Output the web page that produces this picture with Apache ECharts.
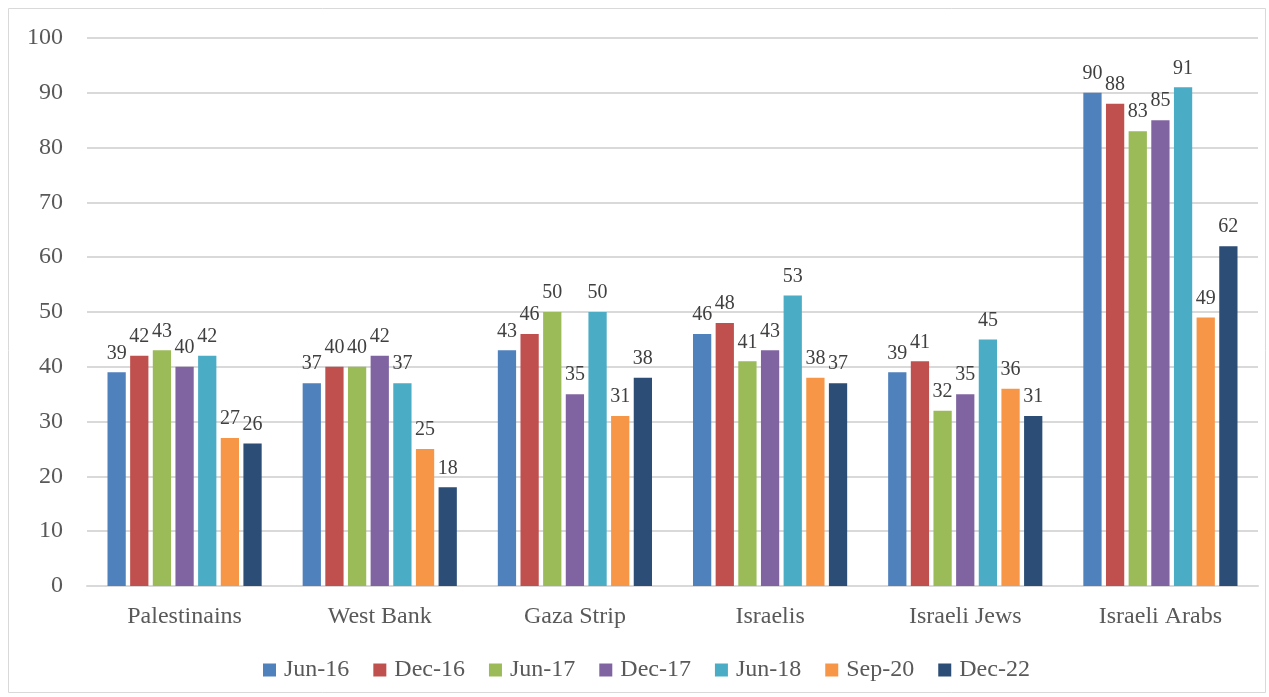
<!DOCTYPE html>
<html><head><meta charset="utf-8">
<script src="https://cdn.jsdelivr.net/npm/echarts@6/dist/echarts.min.js"></script>
<style>html,body{margin:0;padding:0;background:#fff}#c{width:1269px;height:697px}</style>
</head><body><div id="c"></div>
<script>
const categories = ['Palestinains','West Bank','Gaza Strip','Israelis','Israeli Jews','Israeli Arabs'];
const seriesNames = ['Jun-16','Dec-16','Jun-17','Dec-17','Jun-18','Sep-20','Dec-22'];
const jun16 = [39,37,43,46,39,90];
const dec16 = [42,40,46,48,41,88];
const jun17 = [43,40,50,41,32,83];
const dec17 = [40,42,35,43,35,85];
const jun18 = [42,37,50,53,45,91];
const sep20 = [27,25,31,38,36,49];
const dec22 = [26,18,38,37,31,62];
const yTicks = [0,10,20,30,40,50,60,70,80,90,100];
const colors = ['#4F81BD','#C0504D','#9BBB59','#8064A2','#4BACC6','#F79646','#2C4D75'];
const allData = [jun16,dec16,jun17,dec17,jun18,sep20,dec22];

const font = '"Liberation Serif", serif';
const chart = echarts.init(document.getElementById('c'));
chart.setOption({
  animation:false,
  color: colors,
  graphic:[{type:'rect',shape:{x:8.5,y:8.5,width:1257,height:684},style:{fill:'none',stroke:'#d9d9d9',lineWidth:1},silent:true}],
  grid:{left:87,right:11,top:38,bottom:111},
  legend:{bottom:10,left:258,itemWidth:13,itemHeight:13,itemGap:24,icon:'rect',
    textStyle:{fontFamily:font,fontSize:24,color:'#595959',padding:[0,0,0,3]},data:seriesNames},
  xAxis:{type:'category',data:categories,
    axisLine:{lineStyle:{color:'#d9d9d9',width:2}},axisTick:{show:false},
    axisLabel:{fontFamily:font,fontSize:24,color:'#595959',margin:19}},
  yAxis:{type:'value',min:0,max:100,interval:10,
    axisLine:{show:false},axisTick:{show:false},
    splitLine:{lineStyle:{color:'#d9d9d9',width:2}},
    axisLabel:{fontFamily:font,fontSize:24,color:'#595959',margin:24,
      formatter:v=>yTicks.includes(v)?String(v):''}},
  series: seriesNames.map((n,i)=>({
    name:n,type:'bar',data:allData[i],barGap:'24%',barCategoryGap:'21%',
    label:{show:true,position:'top',distance:9,fontFamily:font,fontSize:20,color:'#404040'}
  }))
});
</script></body></html>
